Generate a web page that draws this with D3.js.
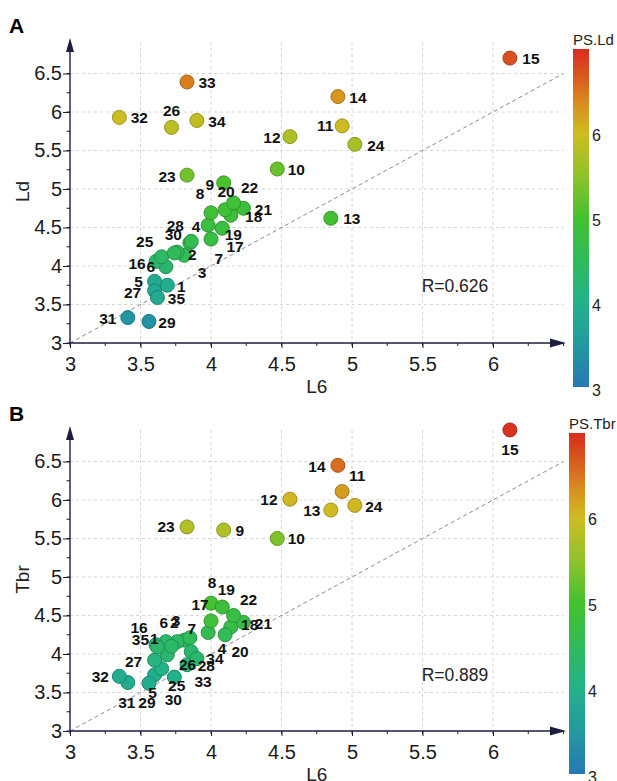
<!DOCTYPE html>
<html>
<head>
<meta charset="utf-8">
<script src="https://cdn.jsdelivr.net/npm/d3@7"></script>
<style>
  body { margin: 0; background: #fff; }
  svg text { font-family: "Liberation Sans", Arial, sans-serif; }
</style>
</head>
<body>
<div id="chart"></div>
<script>
const ids   = d3.range(1, 36);
const L6    = [3.69, 3.81, 3.76, 3.98, 3.60, 3.68, 3.85, 4.00, 4.09, 4.47,
               4.93, 4.56, 4.85, 4.90, 6.12, 3.61, 4.00, 4.14, 4.08, 4.10,
               4.23, 4.16, 3.83, 5.02, 3.65, 3.72, 3.60, 3.86, 3.56, 3.74,
               3.41, 3.35, 3.83, 3.90, 3.62];
const Ld    = [3.75, 4.14, 4.18, 4.53, 3.80, 3.99, 4.30, 4.69, 5.08, 5.26,
               5.82, 5.68, 4.62, 6.20, 6.70, 4.06, 4.35, 4.66, 4.49, 4.73,
               4.75, 4.82, 5.18, 5.58, 4.12, 5.80, 3.68, 4.32, 3.28, 4.17,
               3.33, 5.93, 6.39, 5.89, 3.59];
const Tbr   = [3.99, 4.18, 4.16, 4.28, 3.73, 4.16, 4.21, 4.66, 5.61, 5.50,
               6.11, 6.01, 5.87, 6.45, 6.91, 4.12, 4.43, 4.35, 4.61, 4.25,
               4.41, 4.50, 5.65, 5.93, 3.81, 4.10, 3.92, 4.03, 3.62, 3.70,
               3.63, 3.71, 3.86, 3.94, 4.09];
// predicted values used for the colour of each point
const psLd  = [3.90, 4.55, 4.50, 4.80, 3.85, 4.30, 4.60, 4.90, 5.05, 5.25,
               6.00, 5.75, 4.95, 6.30, 6.75, 4.30, 4.75, 4.85, 4.80, 4.90,
               4.85, 4.90, 5.30, 5.70, 4.40, 5.85, 3.80, 4.60, 3.40, 4.50,
               3.45, 6.00, 6.45, 5.90, 3.85];
const psTbr = [4.30, 4.40, 4.40, 4.60, 3.95, 4.35, 4.50, 5.00, 5.75, 5.40,
               6.25, 6.05, 6.00, 6.55, 6.95, 4.30, 4.90, 4.70, 4.85, 4.55,
               4.70, 4.75, 5.80, 6.05, 4.00, 4.35, 4.10, 4.30, 3.90, 3.95,
               3.90, 3.90, 4.20, 4.30, 4.30];

const xTicks   = [3, 3.5, 4, 4.5, 5, 5.5, 6];
const yTicks   = [3, 3.5, 4, 4.5, 5, 5.5, 6, 6.5];
const barTicks = [3, 4, 5, 6];
const rTexts   = ["R=0.626", "R=0.889"];

// label placement (pixel offsets from each point, like a repel layout)
const labelOffA = [[14,1],[8,-1],[25,20],[-12,1],[-16,0],[-15,0],[29,16],[-11,-19],[-14,2],[19,1],
                   [-17,0],[-18,1],[21,0],[20,1],[21,0],[-19,2],[24,7],[23,1],[11,6],[1,-18],
                   [20,1],[16,-15],[-20,1],[21,1],[-17,-15],[0,-17],[-22,2],[-16,-16],[18,1],[-1,-18],
                   [-20,1],[20,0],[20,1],[20,1],[19,1]];
const labelOffB = [[-13,-16],[-10,-18],[-1,-21],[14,16],[-2,18],[-2,-19],[2,-9],[1,-21],[16,0],[19,0],
                   [15,-16],[-21,0],[-19,0],[-21,1],[0,20],[-17,-17],[-11,-16],[19,-3],[4,-18],[15,17],
                   [20,1],[15,-16],[-21,0],[19,1],[15,17],[16,18],[-21,1],[15,14],[-2,19],[-1,22],
                   [-1,20],[-19,0],[16,17],[18,0],[-17,-8]];

// colour scale shared by both panels
const colorStops = [3, 3.5, 4, 4.5, 5, 5.5, 6, 6.3, 6.6, 7];
const colorRange = ["#2877b3", "#229a9f", "#22b28a", "#2fbb5a", "#43c12e",
                    "#8fc22a", "#cdbd22", "#d8951f", "#d9651f", "#d92b1f"];
const color = d3.scaleLinear().domain(colorStops).range(colorRange);

const width = 617, height = 781;
const svg = d3.select("#chart").append("svg")
    .attr("width", width)
    .attr("height", height);

const defs = svg.append("defs");
const grad = defs.append("linearGradient")
    .attr("id", "barGrad")
    .attr("x1", 0).attr("y1", 1).attr("x2", 0).attr("y2", 0);
grad.selectAll("stop")
    .data(colorStops)
    .enter().append("stop")
    .attr("offset", d => ((d - 3) / 4 * 100) + "%")
    .attr("stop-color", d => color(d));

const x = d3.scaleLinear().domain([3, 6.5]).range([70, 563.5]);
const axisColor = "#1c1c3c";

function drawPanel(p) {
    const g = svg.append("g");
    const y = d3.scaleLinear().domain([3, 6.5]).range([p.base, p.base - 269.5]);
    const top = p.base - 303;

    // grid
    g.selectAll(".vgrid").data(xTicks.slice(1)).enter().append("line")
        .attr("x1", d => x(d)).attr("x2", d => x(d))
        .attr("y1", top + 2).attr("y2", p.base)
        .attr("stroke", "#d6d6d6").attr("stroke-dasharray", "3,3");
    g.selectAll(".hgrid").data(yTicks.slice(1)).enter().append("line")
        .attr("x1", x(3)).attr("x2", x(6.5))
        .attr("y1", d => y(d)).attr("y2", d => y(d))
        .attr("stroke", "#d6d6d6").attr("stroke-dasharray", "3,3");

    // 1:1 line
    g.append("line")
        .attr("x1", x(3)).attr("y1", y(3))
        .attr("x2", x(6.5)).attr("y2", y(6.5))
        .attr("stroke", "#8a8a8a").attr("stroke-width", 1)
        .attr("stroke-dasharray", "4,3");

    // minor ticks
    const minor = d3.range(3, 6.51, 0.25);
    g.selectAll(".xminor").data(minor).enter().append("line")
        .attr("x1", d => x(d)).attr("x2", d => x(d))
        .attr("y1", p.base).attr("y2", p.base + 3)
        .attr("stroke", axisColor);
    g.selectAll(".yminor").data(minor).enter().append("line")
        .attr("x1", x(3) - 3.5).attr("x2", x(3))
        .attr("y1", d => y(d)).attr("y2", d => y(d))
        .attr("stroke", axisColor);

    // major axes
    const xAxis = g.append("g")
        .attr("transform", `translate(0,${p.base})`)
        .call(d3.axisBottom(x).tickValues(xTicks).tickFormat(d3.format("")).tickSize(5).tickPadding(9));
    const yAxis = g.append("g")
        .attr("transform", `translate(${x(3)},0)`)
        .call(d3.axisLeft(y).tickValues(yTicks).tickFormat(d3.format("")).tickSize(7).tickPadding(1));
    [xAxis, yAxis].forEach(a => {
        a.select(".domain").remove();
        a.selectAll("line").attr("stroke", axisColor);
        a.selectAll("text").style("font-size", "20px").attr("fill", "#1a1a1a");
    });

    // axis lines with arrows
    g.append("line").attr("x1", x(3)).attr("x2", 552).attr("y1", p.base).attr("y2", p.base)
        .attr("stroke", axisColor).attr("stroke-width", 1.4);
    g.append("path")
        .attr("d", `M566,${p.base} L550,${p.base - 4.5} L550,${p.base + 4.5} Z`)
        .attr("fill", axisColor);
    g.append("line").attr("x1", x(3)).attr("x2", x(3)).attr("y1", p.base).attr("y2", top + 10)
        .attr("stroke", axisColor).attr("stroke-width", 1.4);
    g.append("path")
        .attr("d", `M${x(3)},${top - 2} L${x(3) - 4},${top + 12} L${x(3) + 4},${top + 12} Z`)
        .attr("fill", axisColor);

    // axis titles
    g.append("text")
        .attr("x", x(4.75)).attr("y", p.base + 50)
        .attr("text-anchor", "middle")
        .style("font-size", "19px").attr("fill", "#222")
        .text("L6");
    g.append("text")
        .attr("transform", `translate(29,${(p.base + top) / 2}) rotate(-90)`)
        .attr("text-anchor", "middle")
        .style("font-size", "19px").attr("fill", "#222")
        .text(p.yTitle);

    // panel letter
    g.append("text")
        .attr("x", 9).attr("y", p.base - 310)
        .style("font-size", "21px").style("font-weight", "bold")
        .text(p.letter);

    // R value
    g.append("text")
        .attr("x", 455).attr("y", p.rY)
        .attr("text-anchor", "middle").attr("dominant-baseline", "central")
        .style("font-size", "17.5px").attr("fill", "#222")
        .text(p.rText);

    // points
    const pts = ids.map((id, i) => ({id: id, x: L6[i], y: p.yVals[i], c: p.cVals[i], off: p.offs[i]}));
    g.selectAll("circle").data(pts).enter().append("circle")
        .attr("cx", d => x(d.x)).attr("cy", d => y(d.y))
        .attr("r", 7)
        .attr("fill", d => color(d.c))
        .attr("stroke", d => d3.color(color(d.c)).darker(0.7))
        .attr("stroke-width", 1);
    g.selectAll(".lab").data(pts).enter().append("text")
        .attr("x", d => x(d.x) + d.off[0])
        .attr("y", d => y(d.y) + d.off[1])
        .attr("text-anchor", "middle").attr("dominant-baseline", "central")
        .style("font-size", "15.5px").style("font-weight", "bold").attr("fill", "#111")
        .text(d => d.id);

    // colour bar
    const yBar = d3.scaleLinear().domain([3, 7]).range(p.barRange);
    g.append("rect")
        .attr("x", p.barX).attr("y", yBar(7) - 1)
        .attr("width", 16).attr("height", yBar(3) - yBar(7) - 2)
        .attr("fill", "url(#barGrad)");
    g.selectAll(".btick").data(barTicks).enter().append("text")
        .attr("x", p.barX + 19).attr("y", d => yBar(d))
        .attr("dominant-baseline", "central")
        .style("font-size", "16px").attr("fill", "#222")
        .text(d => d);
    g.append("text")
        .attr("x", p.barX).attr("y", yBar(7) - 5)
        .style("font-size", "15px").attr("fill", "#222")
        .text(p.barTitle);
}

drawPanel({base: 343, yVals: Ld, cVals: psLd, offs: labelOffA, yTitle: "Ld",
           letter: "A", rText: rTexts[0], rY: 286, barX: 573, barRange: [390, 50], barTitle: "PS.Ld"});
drawPanel({base: 731, yVals: Tbr, cVals: psTbr, offs: labelOffB, yTitle: "Tbr",
           letter: "B", rText: rTexts[1], rY: 675, barX: 569, barRange: [777, 434], barTitle: "PS.Tbr"});
</script>
</body>
</html>
